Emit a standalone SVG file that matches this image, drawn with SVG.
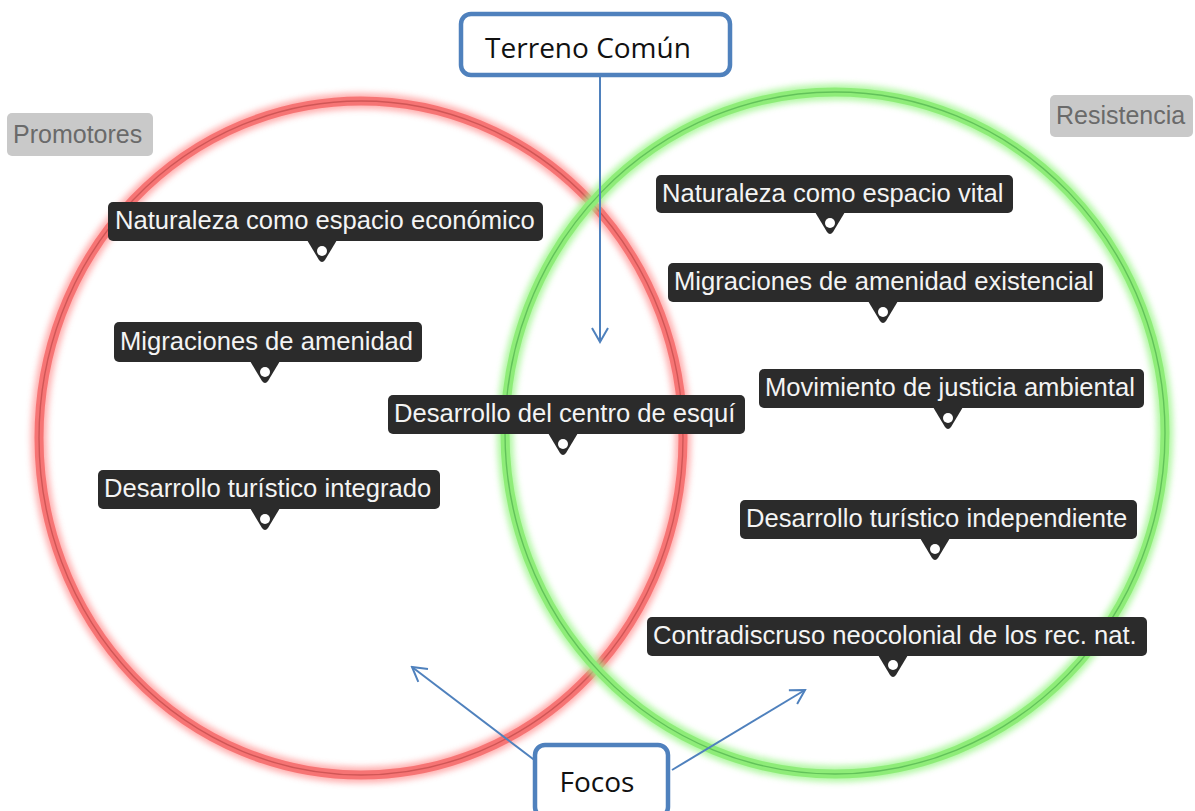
<svg xmlns="http://www.w3.org/2000/svg" width="1195" height="811" viewBox="0 0 1195 811">
<style>
.lbl rect, .lbl path{fill:#2b2b2b}
.lbl text{font-family:"Liberation Sans",Arial,sans-serif;font-size:25.6px;fill:#f4f4f4}
.dot{fill:#ffffff}
.tag rect{fill:#c9c9c9}
.tag text{font-family:"Liberation Sans",Arial,sans-serif;font-size:25px;fill:#6a6a6a}
.box rect{fill:#ffffff;stroke:#4f81bd;stroke-width:4.5}
.box text{font-family:"Open Sans","Liberation Sans",sans-serif;font-size:28px;fill:#111111;text-anchor:middle}
.conn line{stroke:#4f81bd;stroke-width:2}
</style>
<defs>
<filter id="glow" x="-20%" y="-20%" width="140%" height="140%">
<feGaussianBlur stdDeviation="3"/>
</filter>
<marker id="arr" viewBox="0 0 20 20" refX="18" refY="10" markerWidth="20" markerHeight="20" markerUnits="userSpaceOnUse" orient="auto">
<path d="M4,2 L18,10 L4,18" fill="none" stroke="#4f81bd" stroke-width="2"/>
</marker>
</defs>
<rect width="1195" height="811" fill="#ffffff"/>

<g id="circle-promotores">
<ellipse cx="361" cy="438" rx="322" ry="337" fill="none" stroke="#ff9a9a" stroke-width="16" filter="url(#glow)" opacity="0.8"/>
<ellipse cx="361" cy="438" rx="322" ry="337" fill="none" stroke="#f67474" stroke-width="9"/>
<ellipse cx="361" cy="438" rx="322" ry="337" fill="none" stroke="#d05656" stroke-width="1.4"/>
</g>
<g id="circle-resistencia">
<ellipse cx="835" cy="433" rx="330" ry="341" fill="none" stroke="#9cf58a" stroke-width="16" filter="url(#glow)" opacity="0.8"/>
<ellipse cx="835" cy="433" rx="330" ry="341" fill="none" stroke="#8eec78" stroke-width="9"/>
<ellipse cx="835" cy="433" rx="330" ry="341" fill="none" stroke="#62c25a" stroke-width="1.4"/>
</g>

<g id="tag-promotores" class="tag">
<rect x="7" y="113" width="146" height="43" rx="5"/>
<text x="13" y="143">Promotores</text>
</g>
<g id="tag-resistencia" class="tag">
<rect x="1050" y="95" width="143" height="42" rx="5"/>
<text x="1056" y="124">Resistencia</text>
</g>

<g id="n1" class="lbl">
<rect x="108" y="202" width="435" height="39" rx="5"/>
<path d="M307,240 L337,240 L325,260 Q322,264 319,260 Z"/>
<circle class="dot" cx="322" cy="251" r="5"/>
<text x="115" y="229">Naturaleza como espacio económico</text>
</g>
<g id="n2" class="lbl">
<rect x="114" y="322" width="308" height="40" rx="5"/>
<path d="M250,361 L280,361 L268,381 Q265,385 262,381 Z"/>
<circle class="dot" cx="265" cy="372" r="5"/>
<text x="120" y="350">Migraciones de amenidad</text>
</g>
<g id="n3" class="lbl">
<rect x="98" y="470" width="342" height="39" rx="5"/>
<path d="M250,508 L280,508 L268,528 Q265,532 262,528 Z"/>
<circle class="dot" cx="265" cy="519" r="5"/>
<text x="104" y="497">Desarrollo turístico integrado</text>
</g>
<g id="n4" class="lbl">
<rect x="388" y="395" width="357" height="39" rx="5"/>
<path d="M548,433 L578,433 L566,453 Q563,457 560,453 Z"/>
<circle class="dot" cx="563" cy="444" r="5"/>
<text x="394" y="422">Desarrollo del centro de esquí</text>
</g>
<g id="n5" class="lbl">
<rect x="656" y="175" width="357" height="38" rx="5"/>
<path d="M815,212 L845,212 L833,232 Q830,236 827,232 Z"/>
<circle class="dot" cx="830" cy="223" r="5"/>
<text x="662" y="202">Naturaleza como espacio vital</text>
</g>
<g id="n6" class="lbl">
<rect x="668" y="263" width="435" height="39" rx="5"/>
<path d="M868,301 L898,301 L886,321 Q883,325 880,321 Z"/>
<circle class="dot" cx="883" cy="312" r="5"/>
<text x="674" y="290">Migraciones de amenidad existencial</text>
</g>
<g id="n7" class="lbl">
<rect x="759" y="369" width="385" height="39" rx="5"/>
<path d="M933,407 L963,407 L951,427 Q948,431 945,427 Z"/>
<circle class="dot" cx="948" cy="418" r="5"/>
<text x="765" y="396">Movimiento de justicia ambiental</text>
</g>
<g id="n8" class="lbl">
<rect x="740" y="500" width="397" height="39" rx="5"/>
<path d="M920,538 L950,538 L938,558 Q935,562 932,558 Z"/>
<circle class="dot" cx="935" cy="549" r="5"/>
<text x="746" y="527">Desarrollo turístico independiente</text>
</g>
<g id="n9" class="lbl">
<rect x="647" y="617" width="500" height="39" rx="5"/>
<path d="M878,655 L908,655 L896,675 Q893,679 890,675 Z"/>
<circle class="dot" cx="893" cy="665" r="5"/>
<text x="653" y="644">Contradiscruso neocolonial de los rec. nat.</text>
</g>

<g id="connectors" class="conn">
<line x1="600" y1="76" x2="600" y2="342" marker-end="url(#arr)"/>
<line x1="537" y1="762" x2="412" y2="667" marker-end="url(#arr)"/>
<line x1="672" y1="770" x2="805" y2="690" marker-end="url(#arr)"/>
</g>

<g id="terreno-comun" class="box">
<rect x="461" y="14" width="269" height="61" rx="10"/>
<text x="588" y="58">Terreno Común</text>
</g>
<g id="focos" class="box">
<rect x="535" y="745" width="133" height="72" rx="10"/>
<text x="597" y="792">Focos</text>
</g>
</svg>
